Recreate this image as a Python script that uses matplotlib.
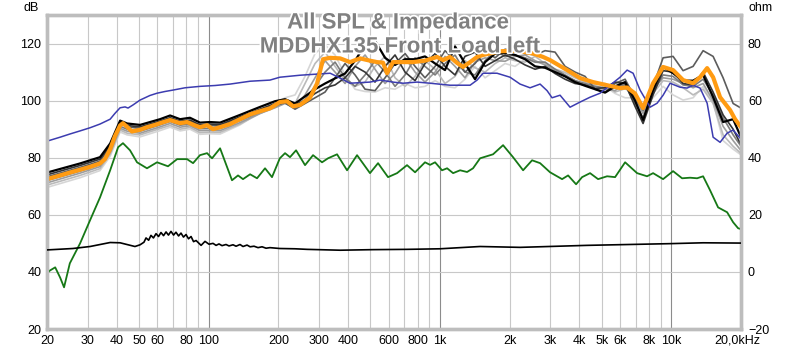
import matplotlib
matplotlib.use("Agg")
import matplotlib.pyplot as plt
import matplotlib.patheffects as pe
from matplotlib import font_manager
from matplotlib.ticker import FixedLocator, NullFormatter, NullLocator

# ---------------- data ----------------
title_lines = ["All SPL & Impedance", "MDDHX135 Front Load left"]
x_tick_vals = [20, 30, 40, 50, 60, 80, 100, 200, 300, 400, 600, 800, 1000,
               2000, 3000, 4000, 5000, 6000, 8000, 10000]
x_tick_labels = ["20", "30", "40", "50", "60", "80", "100", "200", "300", "400",
                 "600", "800", "1k", "2k", "3k", "4k", "5k", "6k", "8k", "10k"]
x_last_label = "20,0kHz"
db_ticks = [20, 40, 60, 80, 100, 120]
ohm_ticks = [-20, 0, 20, 40, 60, 80]

# orange (average SPL)
avg_freq = [20, 22.8, 25.1, 27.8, 30.7, 33.9, 35.6, 37.5, 39.3, 41.4, 42.6, 44.4, 46.6,
            50.5, 54.1, 58.6, 61.6, 68.1, 75.2, 80.6, 87.3, 91.7, 98.4, 104.4, 112,
            123.7, 136.6, 151, 166.7, 184, 203, 218, 231.6, 248, 274, 294, 312, 335,
            370, 408, 451, 498, 534, 567, 590, 626, 692, 764, 861, 971, 1031, 1105,
            1185, 1258, 1349, 1446, 1535, 1818, 2152, 2526, 2790, 2990, 3542, 4030,
            4588, 5274, 6001, 6438, 6966, 7546, 8337, 9210, 10172, 11236, 12414,
            13308, 14278, 15152, 16240, 17940, 18859, 20000]
avg_db = [72.5, 73.8, 74.8, 75.8, 76.8, 78.0, 79.5, 83.0, 87.5, 91.3, 92.1, 90.8, 89.2,
          89.8, 90.7, 91.5, 92.1, 93.2, 92.1, 92.5, 91.3, 90.7, 91.4, 90.0, 90.7,
          91.8, 93.5, 95.2, 96.3, 97.3, 99.5, 99.8, 98.0, 98.5, 101.0, 106.0, 114.5, 115.0,
          114.8, 113.5, 114.8, 114.0, 113.5, 113.3, 109.6, 113.5, 113.5, 113.5, 114.0, 115.3, 114.2, 115.3,
          113.2, 111.8, 113.5, 115.3, 116.0, 117.3, 117.5, 116.5, 115.3, 114.2, 110.7, 107.9,
          106.5, 105.4, 104.4, 104.6, 102.5, 97.4, 106.1, 111.8, 110.7, 107.2, 106.1,
          108.2, 111.4, 108.2, 101.2, 96.7, 93.5, 90.7]

# blue SPL curve
blue_freq = [20, 22.8, 25.1, 27.8, 30.7, 33.9, 37.5, 39.3, 41.4, 43.5, 44.8, 47.1, 50.5,
             55.7, 59.8, 64.7, 70.1, 79.0, 91.7, 106.5, 123.7, 151, 184, 203, 248, 335,
             370, 408, 498, 551, 626, 692, 796, 906, 1105, 1349, 1446, 1535, 1764, 2008,
             2218, 2450, 2707, 2902, 3050, 3303, 3648, 4030, 4452, 4918, 5433, 6001,
             6438, 6834, 7323, 8090, 8678, 9210, 9872, 10906, 11696, 12414, 13308,
             14278, 15152, 16240, 17420, 18492, 20000]
blue_db = [85.8, 87.2, 88.3, 89.4, 90.5, 91.8, 93.5, 95.5, 97.5, 97.8, 97.4, 98.5, 100.2,
           101.8, 102.6, 103.2, 103.7, 104.5, 105.0, 105.3, 105.8, 106.8, 107.2, 108.2, 108.9, 109.6,
           107.9, 106.1, 106.5, 107.2, 106.5, 106.1, 106.5, 106.1, 105.4, 105.4, 107.2, 109.6, 109.6, 108.2,
           105.8, 104.5, 105.8, 103.5, 101.0, 101.9, 97.7, 99.5, 101.2, 102.6, 105.4, 108.2,
           110.7, 109.6, 103.7, 97.7, 99.1, 101.9, 106.1, 104.7, 104.4, 105.4, 104.4,
           99.1, 87.2, 85.4, 88.6, 89.7, 86.5]

# green curve
green_freq = [20, 20.6, 21.7, 22.8, 23.7, 25.1, 27.8, 30.7, 33.9, 37.5, 40.6, 42.6, 45.7,
              49.0, 54.1, 59.8, 66.7, 73.0, 80.6, 85.6, 91.7, 98.4, 103.4, 112, 126.1,
              133.9, 140.7, 151, 161.8, 175.2, 187.8, 203, 213.8, 224.6, 238.6, 260.9,
              282.5, 309, 328, 358.8, 396.4, 437.8, 498, 539.6, 596, 652, 720, 780, 861,
              906, 952, 1020, 1073, 1139, 1221, 1309, 1389, 1490, 1695, 1873, 2068, 2286,
              2500, 2707, 2990, 3370, 3578, 3874, 4112, 4452, 4822, 5274, 5711, 6310,
              7110, 7852, 8337, 9210, 10172, 11126, 12047, 12918, 13716, 14701, 15924,
              17420, 18492, 19432, 20000]
green_db = [39.5, 40.5, 41.6, 38.0, 34.6, 43.0, 50.0, 58.1, 66.1, 75.6, 83.7, 85.1, 82.6,
            78.4, 76.3, 78.4, 77.0, 79.5, 79.5, 78.1, 80.9, 81.6, 79.8, 83.3, 72.1,
            73.8, 72.5, 74.2, 72.8, 76.3, 73.2, 79.8, 81.6, 80.2, 82.6, 77.4,
            80.9, 78.4, 79.8, 81.2, 75.6, 80.9, 74.6, 78.1, 73.2, 74.6, 77.4, 74.9, 78.4,
            77.5, 78.4, 75.6, 76.3, 74.6, 75.6, 75.0, 76.3, 79.8, 81.2, 84.4, 80.2, 75.6,
            79.1, 78.1, 74.9, 72.5, 73.8, 70.7, 73.2, 74.6, 72.5, 73.5, 73.2, 78.4,
            74.6, 73.5, 74.6, 72.5, 75.3, 72.8, 73.0, 72.8, 73.5, 68.6, 62.6,
            60.9, 57.4, 55.3, 55.0]

# impedance (ohm, right axis)
imp_freq = [20, 25.9, 30.7, 37.5, 41.4, 48.0, 50.5, 52.5, 53.6, 55.0, 56.3, 57.7, 59.2,
            60.7, 62.2, 63.8, 65.4, 67.0, 68.7, 70.5, 72.2, 74.1, 75.9, 77.8, 79.8,
            81.8, 83.9, 86.0, 88.2, 92.7, 96.4, 100.3, 104.4, 107.6, 110.8, 114.2,
            118.8, 122.4, 127.4, 131.3, 136.6, 140.7, 146.5, 151, 157, 163.4, 170.1,
            177, 184, 203, 236.2, 266.2, 370, 513.4, 720, 1000, 1490, 2218, 4320,
            9872, 13716, 20000]
imp_ohm = [7.7, 8.2, 8.9, 10.3, 10.2, 8.9, 9.5, 10.4, 11.9, 11.1, 12.8, 11.9, 13.4,
           12.4, 13.8, 12.7, 14.0, 12.9, 14.2, 12.9, 13.9, 12.6, 13.6, 12.2, 13.1,
           11.6, 12.4, 10.6, 11.0, 9.3, 10.7, 9.7, 10.0, 9.3, 9.8, 9.2,
           9.6, 9.1, 9.5, 9.0, 9.6, 8.9, 9.4, 8.8, 9.0, 8.5, 8.8,
           8.3, 8.5, 8.2, 8.1, 7.9, 7.6, 7.8, 7.9, 8.1, 8.9, 8.6, 9.3,
           9.9, 10.2, 10.1]

# individual SPL measurements (grey family), shared frequency grid
gray_freq = [20, 27.8, 33.9, 37.5, 41.4, 44.4, 50.5, 61.6, 68.1, 75.2, 83.0, 91.7, 101.4,
             112, 136.6, 166.7, 193.5, 213.8, 236.2, 260.9, 288.2, 318.4, 351.7, 388.6,
             429.2, 474.1, 523.6, 578.6, 639, 706, 780, 861, 952, 1051, 1161, 1282,
             1417, 1566, 1730, 1910, 2110, 2332, 2576, 2845, 3142, 3471, 3835, 4236,
             4679, 5170, 5711, 6310, 6966, 7546, 8337, 9210, 10172, 11236, 12414,
             13716, 15152, 16736, 18492, 20000]
gray1_db = [74.8, 78.0, 80.2, 85.0, 93.0, 92.0, 91.5, 93.5, 94.8, 93.5, 94.0, 92.3, 92.5,
            92.3, 95.0, 97.8, 99.8, 100.5, 99.0, 101.5, 104.0, 106.0, 107.8, 109.5,
            114.0, 119.5, 121.0, 115.0, 112.5, 114.5, 114.5, 115.5, 113.0, 110.7, 119.0, 113.0,
            107.5, 113.5, 116.5, 116.7, 116.0, 114.5, 112.0, 111.5, 110.0, 108.5, 106.5, 105.2,
            104.0, 102.8, 105.0, 106.5, 100.0, 93.2, 103.7, 111.8, 109.6, 107.0, 107.0,
            109.0, 101.2, 92.5, 93.5, 87.2]
gray2_db = [74.0, 77.3, 79.5, 84.3, 92.5, 91.3, 90.8, 92.8, 94.0, 92.8, 93.2, 91.5, 91.8,
            91.6, 94.3, 97.0, 99.0, 100.0, 98.5, 100.0, 102.5, 104.5, 105.5, 108.0,
            112.0, 110.0, 106.5, 112.0, 116.0, 110.0, 107.0, 113.0, 116.5, 112.0, 109.0, 115.5,
            117.0, 112.0, 114.0, 116.0, 114.5, 112.5, 111.0, 112.0, 109.5, 107.5, 106.0, 105.5,
            104.3, 104.5, 106.5, 106.0, 98.0, 92.0, 102.0, 110.5, 110.0, 106.0, 105.5,
            110.0, 103.0, 95.0, 90.0, 84.5]
gray3_db = [73.3, 76.6, 78.8, 83.8, 92.0, 90.8, 90.3, 92.4, 93.6, 92.4, 92.8, 91.1, 91.3,
            91.1, 93.8, 96.5, 98.5, 99.2, 97.0, 99.0, 101.0, 103.0, 108.0, 113.0,
            109.0, 104.0, 103.5, 108.0, 113.0, 116.5, 112.0, 108.0, 112.0, 117.5, 114.0, 110.0,
            113.0, 117.5, 115.0, 118.0, 117.5, 116.5, 116.0, 117.5, 117.0, 112.0, 110.0, 108.5,
            104.0, 103.0, 106.0, 107.5, 101.0, 96.7, 105.0, 115.0, 115.5, 110.5, 112.0,
            117.5, 115.5, 108.0, 99.0, 97.4]
gray4_db = [72.0, 75.3, 77.6, 82.5, 91.0, 90.0, 89.3, 91.5, 92.7, 91.4, 91.8, 90.2, 90.3,
            90.2, 93.0, 96.0, 98.0, 99.5, 97.5, 100.5, 105.0, 110.0, 113.5, 108.0,
            105.0, 109.0, 114.0, 110.0, 105.0, 109.0, 115.0, 112.0, 109.0, 113.0, 116.0, 110.0,
            109.0, 114.0, 117.5, 115.5, 116.0, 115.0, 113.5, 113.5, 111.0, 109.0, 107.0, 106.0,
            105.0, 104.5, 105.0, 105.5, 99.0, 94.0, 103.0, 109.0, 108.5, 105.5, 105.0,
            107.5, 102.0, 94.0, 88.0, 84.0]
gray5_db = [71.2, 74.6, 76.9, 81.8, 90.3, 89.3, 88.6, 90.8, 92.0, 90.7, 91.2, 89.5, 89.6,
            89.5, 92.3, 95.5, 97.5, 99.0, 97.5, 102.0, 108.0, 114.0, 110.0, 106.0,
            112.0, 116.0, 111.0, 106.0, 109.5, 115.0, 110.0, 106.5, 110.0, 115.5, 112.0, 108.0,
            113.5, 115.0, 114.0, 113.8, 115.5, 116.0, 114.0, 112.5, 110.5, 108.5, 107.0, 105.5,
            104.3, 104.0, 103.5, 106.0, 100.5, 95.5, 104.0, 108.0, 107.5, 106.0, 104.5,
            106.0, 100.0, 91.0, 86.0, 82.5]
gray6_db = [70.4, 73.8, 76.2, 81.2, 89.7, 88.6, 88.0, 90.2, 91.3, 90.0, 90.6, 88.8, 89.0,
            88.9, 91.8, 95.5, 97.8, 99.5, 99.0, 106.0, 113.0, 117.0, 112.0, 107.0,
            105.0, 106.5, 112.0, 115.5, 108.0, 105.0, 108.5, 114.0, 111.0, 106.0, 108.5, 114.0,
            111.5, 110.0, 113.0, 115.0, 114.0, 113.5, 115.5, 113.0, 111.0, 109.8, 108.0, 106.5,
            105.5, 106.0, 103.0, 104.2, 102.0, 96.5, 102.5, 107.0, 106.5, 104.5, 102.0,
            104.0, 99.0, 88.0, 84.0, 81.5]
gray7_db = [69.6, 73.0, 75.5, 80.5, 89.0, 88.0, 87.3, 89.5, 90.7, 89.4, 90.0, 88.2, 88.4,
            88.3, 91.5, 96.0, 99.0, 101.0, 102.0, 108.5, 116.5, 119.5, 116.0, 109.0,
            104.0, 103.2, 103.0, 104.5, 104.0, 106.0, 104.5, 105.0, 107.0, 105.0, 104.5, 107.5,
            112.0, 108.0, 110.5, 113.0, 112.0, 114.5, 113.5, 112.8, 111.0, 110.0, 108.5, 107.0,
            106.5, 105.0, 102.5, 101.0, 101.0, 98.0, 101.0, 105.0, 102.0, 100.2, 101.0,
            105.0, 99.5, 86.0, 83.0, 81.0]
gray_series = [gray7_db, gray6_db, gray5_db, gray4_db, gray3_db, gray2_db, gray1_db]
gray_colors = ["#d6d6d6", "#bababa", "#9c9c9c", "#7c7c7c", "#5c5c5c", "#353535", "#000000"]
gray_widths = [1.2, 1.2, 1.2, 1.2, 1.2, 1.2, 1.6]

# ---------------- fonts ----------------
names = {f.name for f in font_manager.fontManager.ttflist}
narrow = "Liberation Sans Narrow" if "Liberation Sans Narrow" in names else "Liberation Sans"
plt.rcParams["font.family"] = [narrow, "DejaVu Sans"]

# ---------------- figure ----------------
fig = plt.figure(figsize=(8, 3.5), dpi=100)
ax = fig.add_axes([47 / 800, 1 - 329 / 350, (741 - 47) / 800, (329 - 15) / 350])
ax.set_xscale("log")
ax.set_xlim(20, 20000)
ax.set_ylim(20, 130)

# grid
minor_vals = [30, 40, 50, 60, 70, 80, 90, 200, 300, 400, 500, 600, 700, 800, 900,
              2000, 3000, 4000, 5000, 6000, 7000, 8000, 9000]
for v in minor_vals:
    ax.axvline(v, color="#c8c8c8", lw=0.8, zorder=0)
for v in [100, 1000, 10000]:
    ax.axvline(v, color="#8c8c8c", lw=0.8, zorder=0)
for v in [40, 60, 80, 100, 120]:
    ax.axhline(v, color="#c8c8c8", lw=0.8, zorder=0)

for ys, c, w in zip(gray_series, gray_colors, gray_widths):
    ax.plot(gray_freq, ys, color=c, lw=w, zorder=2)
ax.plot(blue_freq, blue_db, color="#3c3cb0", lw=1.1, zorder=3)
ax.plot(green_freq, green_db, color="#167816", lw=1.3, zorder=3)
ax.plot(avg_freq, avg_db, color="#ff9b12", lw=3.0, zorder=4, solid_capstyle="round")

ax2 = ax.twinx()
ax2.set_ylim(-20, 90)
ax2.plot(imp_freq, imp_ohm, color="#000000", lw=1.2, zorder=3)

# ticks
ax.xaxis.set_major_locator(FixedLocator(x_tick_vals))
ax.set_xticklabels(x_tick_labels)
ax.xaxis.set_minor_locator(NullLocator())
ax.xaxis.set_minor_formatter(NullFormatter())
ax.set_yticks(db_ticks)
ax2.set_yticks(ohm_ticks)
ax.tick_params(axis="both", length=0, labelsize=9, colors="#000000")
ax.tick_params(axis="x", pad=4)
ax.tick_params(axis="y", pad=4)
ax2.tick_params(axis="y", length=0, labelsize=9, pad=5)
ax.annotate(x_last_label, xy=(20000, 20), xycoords="data",
            xytext=(14, -4), textcoords="offset points",
            ha="right", va="top", fontsize=9, annotation_clip=False)

for a in (ax, ax2):
    for s in a.spines.values():
        s.set_color("#bdbdbd")
        s.set_linewidth(2.4)

fig.text(31 / 800, 1 - 8 / 350, "dB", ha="center", va="center", fontsize=9)
fig.text(761 / 800, 1 - 8 / 350, "ohm", ha="center", va="center", fontsize=9)

stroke = [pe.withStroke(linewidth=2.5, foreground="white")]
fig.text(398 / 800, 1 - 23 / 350, title_lines[0], ha="center", va="center",
         fontsize=16, fontweight="bold", color="#808080", path_effects=stroke, zorder=10)
fig.text(400 / 800, 1 - 47 / 350, title_lines[1], ha="center", va="center",
         fontsize=16, fontweight="bold", color="#808080", path_effects=stroke, zorder=10)

fig.savefig("out.png", dpi=100)
